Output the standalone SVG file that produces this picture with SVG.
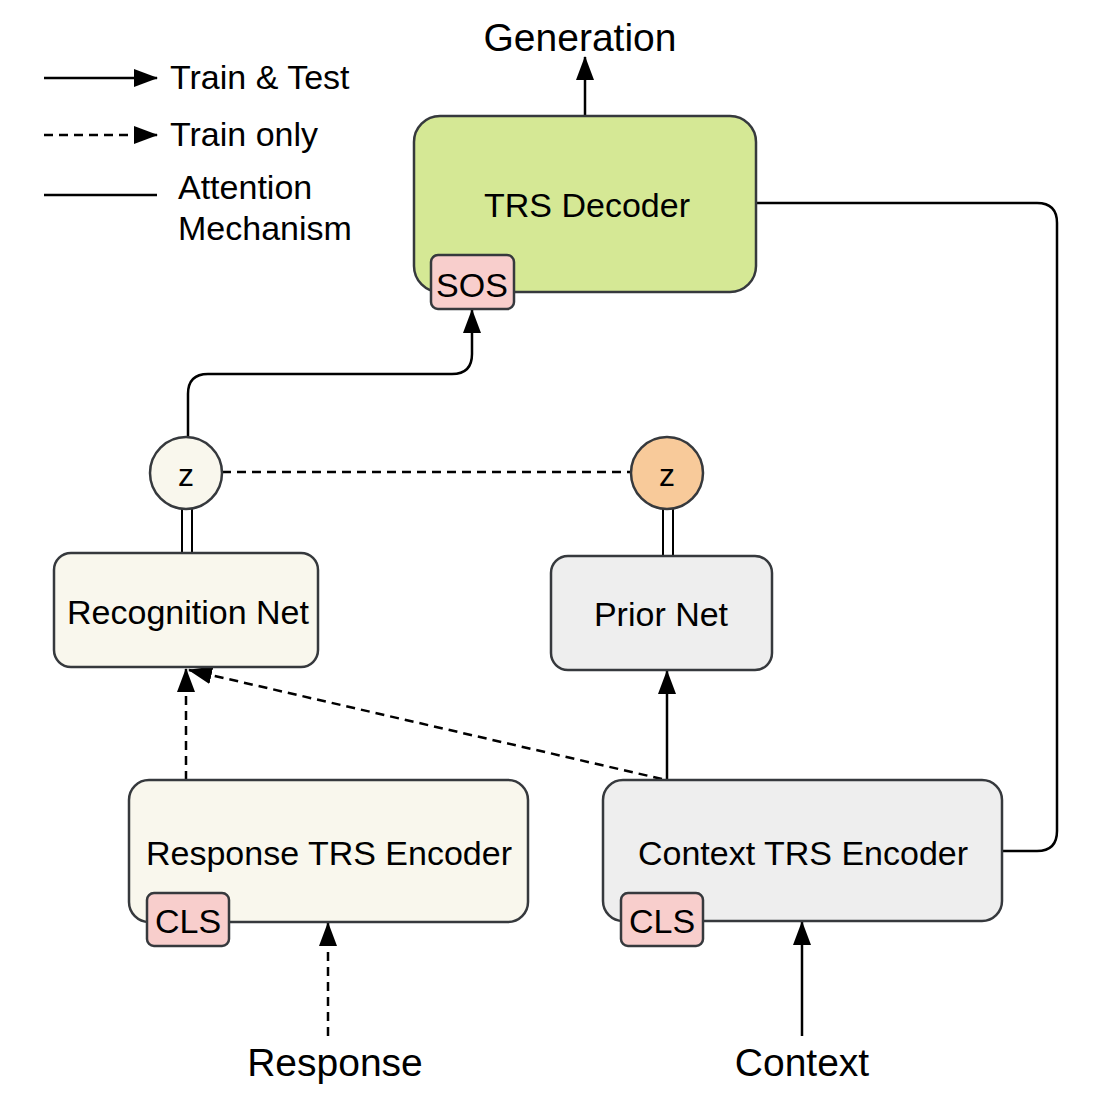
<svg xmlns="http://www.w3.org/2000/svg" width="1098" height="1110" viewBox="0 0 1098 1110">
<style>
text{font-family:"Liberation Sans",Arial,Helvetica,sans-serif;fill:#000}
.lbl{font-size:34px;text-anchor:middle}
.big{font-size:39px;text-anchor:middle}
.leg{font-size:34px}
.box{stroke:#36393d;stroke-width:2.5}
.line{fill:none;stroke:#000;stroke-width:2.5}
.dash{stroke-dasharray:9 6}
</style>
<defs>
<marker id="ah" markerUnits="userSpaceOnUse" markerWidth="24" markerHeight="18" viewBox="0 0 24 18" refX="23" refY="9" orient="auto">
<path d="M0,0 L24,9 L0,18 Z" fill="#000"/>
</marker>
</defs>
<rect width="1098" height="1110" fill="#fff"/>

<g id="legend">
<line class="line" x1="44" y1="78" x2="157" y2="78" marker-end="url(#ah)"/>
<text class="leg" x="170" y="89">Train &amp; Test</text>
<line class="line dash" x1="44" y1="135" x2="157" y2="135" marker-end="url(#ah)"/>
<text class="leg" x="170" y="146">Train only</text>
<line class="line" x1="44" y1="195" x2="157" y2="195"/>
<text class="leg" x="178" y="199">Attention</text>
<text class="leg" x="178" y="240">Mechanism</text>
</g>

<g id="connectors">
<line class="line" x1="585" y1="115" x2="585" y2="57" marker-end="url(#ah)"/>
<path class="line" d="M188 437 V394 Q188 374 208 374 H452 Q472 374 472 354 V310" marker-end="url(#ah)"/>
<path class="line" d="M757 203 H1037 Q1057 203 1057 223 V831 Q1057 851 1037 851 H1003"/>
<line class="line dash" x1="222" y1="472" x2="631" y2="472"/>
<line x1="182" y1="509" x2="182" y2="553" stroke="#000" stroke-width="2"/>
<line x1="192" y1="509" x2="192" y2="553" stroke="#000" stroke-width="2"/>
<line x1="663" y1="509" x2="663" y2="556" stroke="#000" stroke-width="2"/>
<line x1="673" y1="509" x2="673" y2="556" stroke="#000" stroke-width="2"/>
<line class="line dash" x1="186" y1="780" x2="186" y2="669" marker-end="url(#ah)"/>
<line class="line dash" x1="662" y1="779" x2="189" y2="670" marker-end="url(#ah)"/>
<line class="line" x1="667" y1="779" x2="667" y2="671" marker-end="url(#ah)"/>
<line class="line dash" x1="328" y1="1036" x2="328" y2="923" marker-end="url(#ah)"/>
<line class="line" x1="802" y1="1036" x2="802" y2="922" marker-end="url(#ah)"/>
</g>

<text class="big" x="580" y="51">Generation</text>

<g id="decoder">
<rect class="box" x="414" y="116" width="342" height="176" rx="26" fill="#d5e895"/>
<text class="lbl" x="587" y="217">TRS Decoder</text>
</g>
<g id="sos">
<rect class="box" x="431" y="255" width="83" height="54" rx="7" fill="#f8cecc"/>
<text class="lbl" x="472" y="297">SOS</text>
</g>

<g id="z-recognition">
<ellipse class="box" cx="186" cy="473" rx="36" ry="36" fill="#f9f7ed"/>
<text x="186" y="486" font-size="32" text-anchor="middle">z</text>
</g>
<g id="z-prior">
<ellipse class="box" cx="667" cy="473" rx="36" ry="36" fill="#f8ca9a"/>
<text x="667" y="486" font-size="32" text-anchor="middle">z</text>
</g>

<g id="recognition-net">
<rect class="box" x="54" y="553" width="264" height="114" rx="17" fill="#f9f7ed"/>
<text class="lbl" x="188" y="624">Recognition Net</text>
</g>
<g id="prior-net">
<rect class="box" x="551" y="556" width="221" height="114" rx="17" fill="#eeeeee"/>
<text class="lbl" x="661" y="626">Prior Net</text>
</g>

<g id="response-encoder">
<rect class="box" x="129" y="780" width="399" height="142" rx="20" fill="#f9f7ed"/>
<text class="lbl" x="329" y="865">Response TRS Encoder</text>
</g>
<g id="response-cls">
<rect class="box" x="147" y="893" width="82" height="53" rx="7" fill="#f8cecc"/>
<text class="lbl" x="188" y="933">CLS</text>
</g>
<g id="context-encoder">
<rect class="box" x="603" y="780" width="399" height="141" rx="20" fill="#eeeeee"/>
<text class="lbl" x="803" y="865">Context TRS Encoder</text>
</g>
<g id="context-cls">
<rect class="box" x="621" y="893" width="82" height="53" rx="7" fill="#f8cecc"/>
<text class="lbl" x="662" y="933">CLS</text>
</g>

<text class="big" x="335" y="1076">Response</text>
<text class="big" x="802" y="1076">Context</text>
</svg>
